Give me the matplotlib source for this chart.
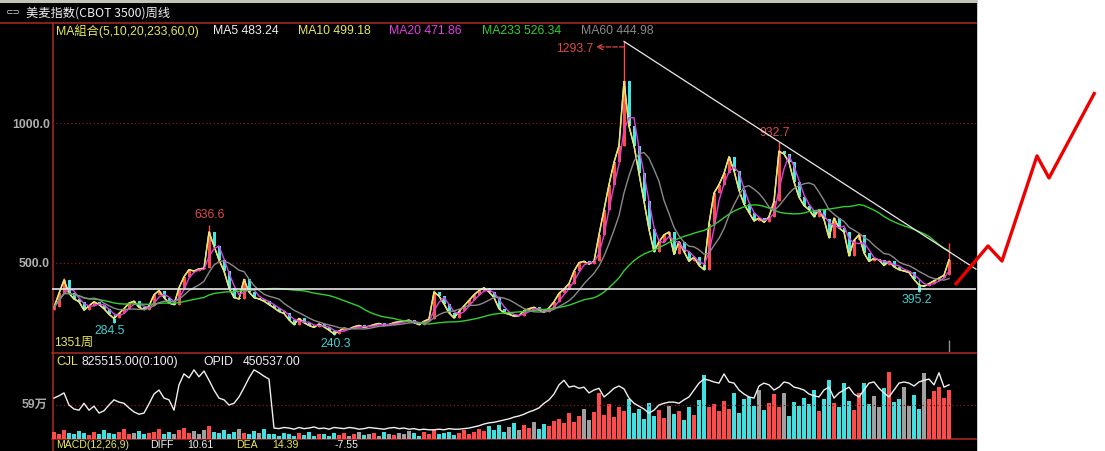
import matplotlib.pyplot as plt
from matplotlib.patches import Rectangle
import numpy as np
import pandas as pd

# weekly closes, one drawn bar per ~7.5 weeks
closes = [
    340, 390, 438, 390, 370, 360, 330, 345, 360, 350,
    335, 315, 300, 318, 335, 355, 362, 340, 332, 345,
    385, 400, 375, 355, 350, 410, 450, 475, 470, 478,
    480, 610, 560, 510, 470, 410, 375, 370, 440, 395,
    375, 370, 362, 350, 338, 325, 318, 295, 278, 300,
    285, 275, 268, 280, 270, 258, 245, 255, 265, 262,
    270, 275, 268, 272, 278, 282, 276, 278, 285, 288,
    290, 294, 285, 278, 290, 298, 395, 380, 352, 320,
    302, 325, 345, 365, 385, 400, 410, 395, 375, 335,
    320, 315, 308, 310, 328, 335, 340, 330, 322, 338,
    360, 390, 405, 425, 470, 500, 505, 495, 505, 600,
    690, 780, 860, 920, 1150, 990, 920, 820, 720, 620,
    540, 575, 600, 610, 530, 575, 540, 505, 520, 490,
    475, 640, 750, 780, 820, 880, 830, 760, 710, 680,
    650, 660, 645, 665, 720, 900, 890, 860, 790, 735,
    705, 690, 665, 690, 655, 590, 660, 625, 610, 525,
    580, 600, 535, 505, 515, 510, 490, 505, 485, 475,
    470, 465, 440, 420, 415, 425, 435, 445, 455, 510,
]
first_open = 330
spike_highs = {2: 445, 31: 636.6, 76: 402, 114: 1293.7, 145: 932.7, 179: 570}
spike_lows = {12: 284.5, 56: 240.3, 173: 395.2}

# volume (万)
volumes = [
    12, 9, 15, 10, 8, 14, 11, 7, 13, 9, 16, 10, 8, 12, 18, 9, 11, 14, 8, 10,
    13, 17, 9, 12, 8, 15, 19, 11, 14, 9, 16, 22, 13, 10, 15, 8, 12, 17, 10, 9,
    14, 11, 18, 8,
    9, 6, 11, 8, 5, 10, 7, 12, 6, 9, 8, 5, 11, 7, 10, 6, 9, 13, 7, 8,
    10, 6, 12, 9, 7, 11, 8, 14, 10, 6, 12, 9, 15, 8, 11, 13, 7, 10, 16, 9, 12,
    18, 14, 22, 16, 25, 12, 20, 28, 15, 24, 19, 30, 17, 26, 22, 32,
    35, 28, 45, 30, 40, 52, 33, 46,
    80, 42, 60, 38, 55, 48, 70, 45, 52, 35, 62, 40, 50, 36, 58, 44, 48, 33, 55, 42,
    68, 111, 55, 60, 48, 66, 52, 80, 45, 70, 73, 58, 85, 50, 62, 78, 55, 80, 40, 65,
    58, 72, 60, 85, 48, 70, 102, 62, 56, 97, 66, 50, 80, 97, 60, 75, 55, 88, 116, 64,
    70, 90, 58, 76, 52, 114, 70, 84, 90, 72, 85,
]

# open interest line, same panel units (万)
open_interest = [
    71, 75, 80, 59, 52, 50, 62, 50, 57, 45, 49, 59, 68, 64, 62, 54, 47, 43, 45, 61,
    78, 85, 71, 68, 50, 94, 113, 106, 120, 108, 118, 102, 85, 71, 68, 59, 62, 73, 89, 106,
    120, 115, 109, 104,
    19,
    18, 20, 19, 17, 20, 18, 19, 21, 18, 19, 17, 20, 19, 18, 20, 19, 17, 18, 20, 19,
    18, 17, 19, 20, 18, 19, 17, 18, 16, 17, 16,
    16, 17, 16, 18, 17, 17, 18, 19, 21, 23, 26, 28, 29, 31, 33, 35, 38, 40, 43, 47,
    50, 54, 62, 68, 78, 94, 102, 90, 92, 88, 90, 80, 85, 88, 73, 80, 88, 92, 87, 71,
    62, 57, 52, 45, 50, 59, 62, 64, 64, 62, 68, 73, 85, 97, 104, 102, 99, 97, 113, 99,
    97, 85, 78, 73, 71, 92, 97, 94, 85, 90, 99, 97, 90, 88, 85, 78, 75, 73, 85, 90,
    71, 80, 85, 90, 78, 73, 85, 97, 99, 88, 80, 73, 85, 97, 99, 97, 92, 99, 102, 104,
    94, 115, 90, 94,
]

ma_periods = [5, 10, 20, 233, 60]
ma_names = ['MA5', 'MA10', 'MA20', 'MA233', 'MA60']
ma_values = ['483.24', '499.18', '471.86', '526.34', '444.98']
ma_colors = ['#f0f0f0', '#e8e858', '#e040e0', '#30d030', '#8a8a8a']
weeks_per_bar = 7.5

# hand drawn trend / support / forecast (price units)
trend_x = [114, 184.4]
trend_y = [1293.7, 477]
support_level = 405
forecast_x = [180.2, 186.8, 189.6, 196.6, 199.0, 208.2]
forecast_y = [420, 560, 506, 883, 804, 1112]

assert len(closes) == len(volumes) == len(open_interest) == 180

RED = '#b02828'
GRID = '#8a1a1a'
CJK = ['Liberation Sans', 'Noto Sans CJK SC', 'DejaVu Sans']

W, H = 1105, 451
fig = plt.figure(figsize=(W / 100, H / 100), dpi=100, facecolor='white')

# screen frame in pixel coordinates
bg = fig.add_axes([0, 0, 1, 1], zorder=0)
bg.set_xlim(0, W)
bg.set_ylim(H, 0)
bg.axis('off')
bg.add_patch(Rectangle((0, 0), 976, H, color='black'))
bg.plot([0, 976], [1.2, 1.2], color='#c4c4b4', lw=2.2)
bg.plot([0, 976], [23, 23], color=RED, lw=1.1)
bg.plot([52, 976], [352.5, 352.5], color=RED, lw=1.1)
bg.plot([52, 976], [438.5, 438.5], color=RED, lw=1.1)
bg.plot([52.5, 52.5], [23, H], color=RED, lw=1.1)

bg.text(5, 13, '⊂⊃', color='#d0d0d0', fontsize=6.5, va='center', family='DejaVu Sans')
bg.text(26, 13, '美麦指数(CBOT 3500)周线', color='#f0f0f0', fontsize=8.8, va='center',
        family=['Noto Sans CJK SC', 'DejaVu Sans'])

fs = 8.8
bg.text(56, 31.5, 'MA組合(5,10,20,233,60,0)', color='#e8e858', fontsize=fs, va='center', family=CJK)
leg_x = [213, 298, 389, 482, 581]
for x, name, val, c in zip(leg_x, ma_names, ma_values, ma_colors):
    bg.text(x, 31.5, f'{name} {val}', color=c if name != 'MA5' else '#f0f0f0',
            fontsize=fs, va='center', family=CJK)

bg.text(54, 343, '1351周', color='#e8e858', fontsize=fs, va='center', family=CJK)
bg.text(56, 362, 'CJL', color='#e8e858', fontsize=fs, va='center', family=CJK)
bg.text(82, 362, '825515.00(0:100)', color='#f0f0f0', fontsize=fs, va='center', family=CJK)
bg.text(203, 362, 'OPID', color='#f0f0f0', fontsize=fs, va='center', family=CJK)
bg.text(243, 362, '450537.00', color='#f0f0f0', fontsize=fs, va='center', family=CJK)
bg.text(48, 405, '59万', color='#a8a8a8', fontsize=fs, va='center', ha='right',
        fontweight='bold', family=CJK)
for x, s, c in [(56, 'MACD(12,26,9)', '#e8e858'), (150, 'DIFF', '#f0f0f0'),
                (187, '10.61', '#f0f0f0'), (236, 'DEA', '#e8e858'),
                (272, '14.39', '#e8e858'), (335, '-7.55', '#f0f0f0')]:
    bg.text(x, 445.5, s, color=c, fontsize=7.6, va='center', family=CJK)

# ---- price panel
n = len(closes)
xs = np.arange(n)
c = np.array(closes, dtype=float)
o = np.concatenate([[first_open], c[:-1]])
hi = np.maximum(o, c)
lo = np.minimum(o, c)
for k, v in spike_highs.items():
    hi[k] = v
for k, v in spike_lows.items():
    lo[k] = v
up = c >= o

ax = fig.add_axes([52 / W, 1 - 352 / H, 924 / W, 329 / H], zorder=1)
ax.set_facecolor('none')
for s in ax.spines.values():
    s.set_visible(False)
ax.set_xlim(-0.4, 184.4)
ax.set_ylim(179.7, 1359.8)
ax.set_xticks([])
ax.set_yticks([500, 1000])
ax.set_yticklabels([f'{v:.1f}' for v in [500, 1000]], color='#b0b0b0', fontsize=8.8,
                   fontweight='bold', family='Liberation Sans')
ax.tick_params(axis='y', length=0, pad=1.5)
for v in [500, 1000]:
    ax.axhline(v, color=GRID, lw=0.9, ls=(0, (1, 2)), zorder=1)

cols = np.where(up, '#ff4a4a', '#40e8e8')
ax.vlines(xs, lo, hi, colors=cols, lw=1, zorder=2)
ax.bar(xs, np.maximum(np.abs(c - o), 1.5), bottom=lo, width=0.6, color=cols, zorder=2)

close_s = pd.Series(c)
for p, col in zip(ma_periods, ma_colors):
    w = max(1, round(p / weeks_per_bar))
    ax.plot(xs, close_s.rolling(w, min_periods=1).mean(), color=col, lw=1, zorder=3)

ax.axhline(support_level, color='#e8e8e8', lw=1.2, zorder=4)
ax.plot(trend_x, trend_y, color='#e8e8e8', lw=0.9, zorder=4, clip_on=False)
ax.plot(forecast_x, forecast_y, color='#ee0000', lw=2.4, zorder=5, clip_on=False,
        solid_capstyle='butt')
ax.vlines(n - 1, 179.7, 222, color='#909090', lw=1)

hi_col, lo_col = '#e04848', '#40d0d0'
ax.text(31.2, 671, f'{spike_highs[31]:.1f}', color=hi_col, fontsize=fs, ha='center',
        va='center', family='Liberation Sans')
ax.text(144.2, 965, f'{spike_highs[145]:.1f}', color=hi_col, fontsize=fs, ha='center',
        va='center', family='Liberation Sans')
ax.text(107.8, 1266, f'{spike_highs[114]:.1f}', color=hi_col, fontsize=fs, ha='right',
        va='center', family='Liberation Sans')
ax.annotate('', xy=(108.4, 1274), xytext=(114, 1274),
            arrowprops=dict(arrowstyle='->', color=hi_col, lw=0.9, ls='--',
                            shrinkA=0, shrinkB=0))
ax.text(11.2, 255, f'{spike_lows[12]:.1f}', color=lo_col, fontsize=fs, ha='center',
        va='center', family='Liberation Sans')
ax.text(56.4, 208, f'{spike_lows[56]:.1f}', color=lo_col, fontsize=fs, ha='center',
        va='center', family='Liberation Sans')
ax.text(172.6, 366, f'{spike_lows[173]:.1f}', color=lo_col, fontsize=fs, ha='center',
        va='center', family='Liberation Sans')

# ---- volume panel
vx = fig.add_axes([52 / W, 1 - 439 / H, 924 / W, 87 / H], zorder=1)
vx.set_facecolor('none')
for s in vx.spines.values():
    s.set_visible(False)
vx.set_xlim(-0.4, 184.4)
vx.set_ylim(0, 151)
vx.set_xticks([])
vx.set_yticks([])
vx.axhline(59, color=GRID, lw=0.9, ls=(0, (1, 2)))
chg = np.abs(c - o) / o
vcols = np.where(chg < 0.02, '#a0a0a0', np.where(up, '#ff4a4a', '#40e0e0'))
vx.bar(xs, volumes, width=0.75, color=vcols)
vx.plot(xs, open_interest, color='#f0f0f0', lw=1)

fig.savefig('out.png', dpi=100, facecolor='white')
